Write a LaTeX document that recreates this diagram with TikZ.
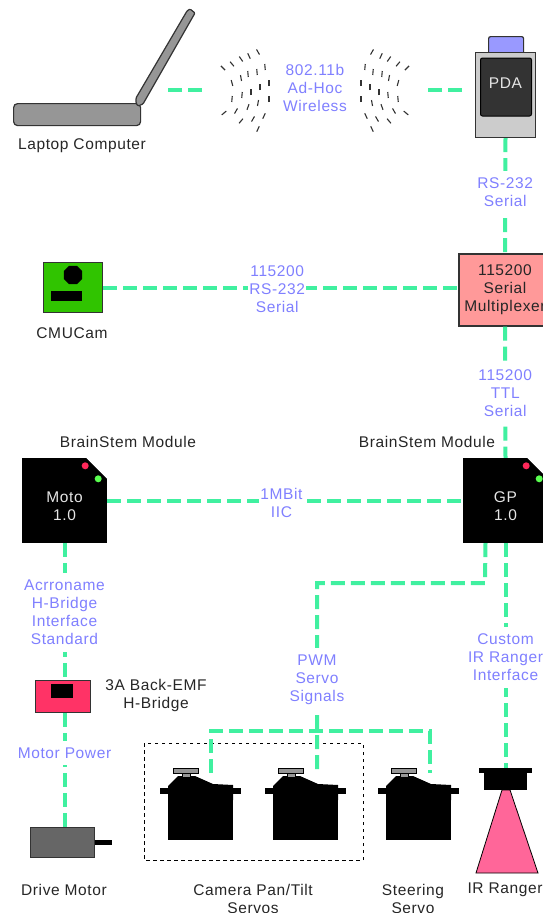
\documentclass[tikz,border=0pt]{standalone}
\usepackage{fontspec}
\setmainfont[LetterSpace=4]{Liberation Sans}
\usetikzlibrary{arrows.meta,positioning,calc,shapes.geometric,shapes.misc}
\definecolor{linkgreen}{RGB}{64,240,160}
\definecolor{linkblue}{RGB}{128,128,255}
\definecolor{lapgray}{RGB}{150,150,150}
\definecolor{pdagray}{RGB}{204,204,204}
\definecolor{pdatop}{RGB}{153,153,255}
\definecolor{pdascreen}{RGB}{51,51,51}
\definecolor{muxred}{RGB}{255,153,153}
\definecolor{camgreen}{RGB}{48,196,0}
\definecolor{bridgered}{RGB}{255,51,102}
\definecolor{conepink}{RGB}{255,102,153}
\definecolor{motorgray}{RGB}{102,102,102}
\definecolor{ledred}{RGB}{255,40,90}
\definecolor{ledgreen}{RGB}{90,255,80}
\tikzset{
  txt/.style={font=\fontsize{15.5}{18}\selectfont, align=center, inner sep=0pt, text=black!85},
  linklabel/.style={txt, text=linkblue, fill=white, inner xsep=1pt, inner ysep=7pt},
  link/.style={draw=linkgreen, line width=4pt, dash pattern=on 14pt off 6pt},
  devbox/.style={draw=black!80, line width=1.2pt, inner sep=0pt, anchor=north west},
  module/.style={rectangle, fill=black, inner sep=0pt, minimum width=85pt, minimum height=85pt},
  led/.style={circle, inner sep=0pt, minimum size=7pt},
  wave/.style={draw=black!80, line width=1.1pt},
}
\begin{document}
\begin{tikzpicture}[x=1pt, y=-1pt]
  \useasboundingbox[fill=white] (0,0) rectangle (543,913);
  % laptop
  \node[devbox, fill=lapgray, rounded corners=4pt, minimum width=127pt, minimum height=22pt] (laptop) at (13,103) {};
  \draw[draw=black!80, line width=1.2pt, fill=lapgray, rounded corners=1pt] (136,98) -- (187,11) -- (190,9) -- (195,13) -- (143,104) -- (138,106) -- (136,103) -- cycle;
  \node[txt] (laptoplabel) at (82,146) {Laptop Computer};
  % pda
  \node[devbox, fill=pdatop, rounded corners=2pt, minimum width=35pt, minimum height=18pt] (pdacap) at (488,36) {};
  \node[devbox, fill=pdagray, chamfered rectangle, chamfered rectangle xsep=5pt, chamfered rectangle ysep=5pt, anchor=center, minimum width=60pt, minimum height=85pt] (pda) at (505.5,95) {};
  \node[rectangle, fill=pdascreen, draw=black, rounded corners=2pt, line width=1pt, minimum width=51pt, minimum height=58pt] (screen) at (506,87) {};
  \node[txt, text=white!90!black] (pdaname) at (505.5,83) {PDA};
  % wireless
  \coordinate (lapend) at (168,90);
  \coordinate (wavea) at (205,90);
  \coordinate (waveb) at (428,90);
  \coordinate (pdaend) at (463,90);
  \draw[link] (lapend) -- (wavea);
  \draw[link] (waveb) -- (pdaend);
  \foreach \mx/\my/\slant in {223/68/45,232/64/50,241/59/55,249/56/65,258/52/60,
      232/83/75,241/78/80,248/74/85,257/72/85,265/67/85,
      232/99/-85,242/95/-85,251/92/90,260/87/90,269/83/90,
      224/113/-40,236/111/-60,248/107/-70,258/103/-80,269/99/90,
      241/121/-50,253/119/-60,264/116/-65,258/129/-65} {
    \draw[wave] ($(\mx,\my)+(\slant:3)$) -- ($(\mx,\my)+(\slant+180:3)$);
    \draw[wave] ($({630-\mx},\my)+(180-\slant:3)$) -- ($({630-\mx},\my)+(-\slant:3)$);
  }
  \node[txt, text=linkblue] (wifi) at (315,88) {802.11b\\Ad-Hoc\\Wireless};
  % multiplexer
  \node[rectangle, draw=black!80, line width=1.2pt, fill=muxred, txt, text=black!85, minimum width=92pt, minimum height=72pt] (mux) at (505,290) {115200\\Serial\\Multiplexer};
  \draw[link] (pda.south) -- node[linklabel, pos=0.47] (rslabel) {RS-232\\Serial} (mux.north);
  % cmucam
  \node[devbox, fill=camgreen, minimum width=59pt, minimum height=50pt] (cam) at (43,262) {};
  \node[regular polygon, regular polygon sides=8, fill=black, inner sep=0pt, minimum size=20pt] (camlens) at (73,275) {};
  \node[rectangle, fill=black, inner sep=0pt, minimum width=31pt, minimum height=10pt] (cambar) at (66.5,296) {};
  \node[txt] (camlabel) at (72,333) {CMUCam};
  \draw[link] (cam.east) -- node[linklabel, pos=0.49, yshift=-2pt] (camlink) {115200\\RS-232\\Serial} (cam.east -| mux.west);
  % brainstem modules
  \node[module] (moto) at (64.5,500.5) {};
  \node[module] (gp) at (505.5,500.5) {};
  \foreach \mod in {moto,gp} {
    \fill[white] ($(\mod.north east)+(-22,-1)$) -- ($(\mod.north east)+(1,-1)$) -- ($(\mod.north east)+(1,22)$) -- cycle;
    \node[led, fill=ledred] (\mod red) at ($(\mod.north east)+(-22,8)$) {};
    \node[led, fill=ledgreen] (\mod green) at ($(\mod.north east)+(-9,21)$) {};
  }
  \node[txt, text=white!90!black] (motoname) at (64.5,506) {Moto\\1.0};
  \node[txt, text=white!90!black] (gpname) at (505.5,506) {GP\\1.0};
  \node[txt] (motolabel) at (128,442) {BrainStem Module};
  \node[txt] (gplabel) at (427,442) {BrainStem Module};
  \draw[link] (mux.south) -- node[linklabel, pos=0.51] (ttl) {115200\\TTL\\Serial} (gp.north);
  \draw[link] (moto.east) -- node[linklabel, pos=0.49, yshift=-2pt] (iic) {1MBit\\IIC} (gp.west);
  % h-bridge and motor
  \node[devbox, fill=bridgered, minimum width=55pt, minimum height=32pt] (bridge) at (35,680) {};
  \node[rectangle, fill=black, inner sep=0pt, minimum width=22pt, minimum height=14pt] (bridgechip) at (62,691) {};
  \node[txt] (bridgelabel) at (156,695) {3A Back-EMF\\H-Bridge};
  \node[devbox, fill=motorgray, minimum width=64pt, minimum height=30pt] (motor) at (30,827) {};
  \node[rectangle, fill=black, inner sep=0pt, minimum width=17pt, minimum height=5pt, right=0pt of motor] (shaft) {};
  \node[txt] (motorlabel) at (64,890) {Drive Motor};
  \draw[link] (moto.south) -- node[linklabel, pos=0.505] (hbif) {Acrroname\\H-Bridge\\Interface\\Standard} (moto.south |- bridge.north);
  \draw[link] (moto.south |- bridge.south) -- node[linklabel, pos=0.35] (mpower) {Motor Power} (moto.south |- motor.north);
  % servos
  \draw[black, line width=0.9pt, dash pattern=on 3.5pt off 3.5pt] (144,743) rectangle (363,860);
  \foreach \name/\dx in {servoa/0,servob/105,servoc/218} {
    \begin{scope}[xshift=\dx pt]
      \fill[black] (168,786) -- (178,776) -- (195,776) -- (213,784) -- (233,785) -- (233,800) -- (168,800) -- cycle;
      \node[rectangle, fill=black, inner sep=0pt, anchor=north west, minimum width=81pt, minimum height=6pt] (\name arm) at (160,788) {};
      \node[rectangle, fill=black, inner sep=0pt, anchor=north west, minimum width=65pt, minimum height=47pt] (\name) at (168,793) {};
      \node[rectangle, fill=lapgray, draw=black, line width=0.8pt, inner sep=0pt, anchor=north west, minimum width=8pt, minimum height=5pt] (\name stem) at (182,772) {};
      \node[rectangle, fill=lapgray, draw=black, line width=0.8pt, inner sep=0pt, anchor=north west, minimum width=25pt, minimum height=5pt] (\name horn) at (173,768) {};
    \end{scope}
  }
  \node[txt] (camservo) at (253,899) {Camera Pan/Tilt\\Servos};
  \node[txt] (steerlabel) at (413,899) {Steering\\Servo};
  % ir ranger
  \draw[black, line width=0.8pt, fill=conepink] (502,790) -- (510,790) -- (538,873) -- (476,873) -- cycle;
  \node[rectangle, fill=black, inner sep=0pt, anchor=north, minimum width=43pt, minimum height=22pt] (irbody) at (505.5,768) {};
  \node[rectangle, fill=black, inner sep=0pt, anchor=north, minimum width=53pt, minimum height=5pt] (irhead) at (505.5,768) {};
  \node[txt] (irlabel) at (505,890) {IR Ranger};
  % servo signals
  \coordinate (pwmout) at ($(gp.south)+(-20,0)$);
  \coordinate (pwmbend) at (485,583);
  \coordinate (pwmturn) at (317,583);
  \coordinate (tapb) at (317,773);
  \coordinate (tapa) at (211,773);
  \coordinate (busa) at (211,731);
  \coordinate (busc) at (430,731);
  \coordinate (tapc) at (430,773);
  \draw[link] (pwmout) -- (pwmbend) -- (pwmturn) -- node[linklabel, pos=0.51] (pwm) {PWM\\Servo\\Signals} (tapb);
  \draw[link] (tapa) -- (busa) -- (busc) -- (tapc);
  \draw[link] (gp.south) -- node[linklabel, pos=0.507] (irif) {Custom\\IR Ranger\\Interface} (irhead.north);
\end{tikzpicture}
\end{document}
